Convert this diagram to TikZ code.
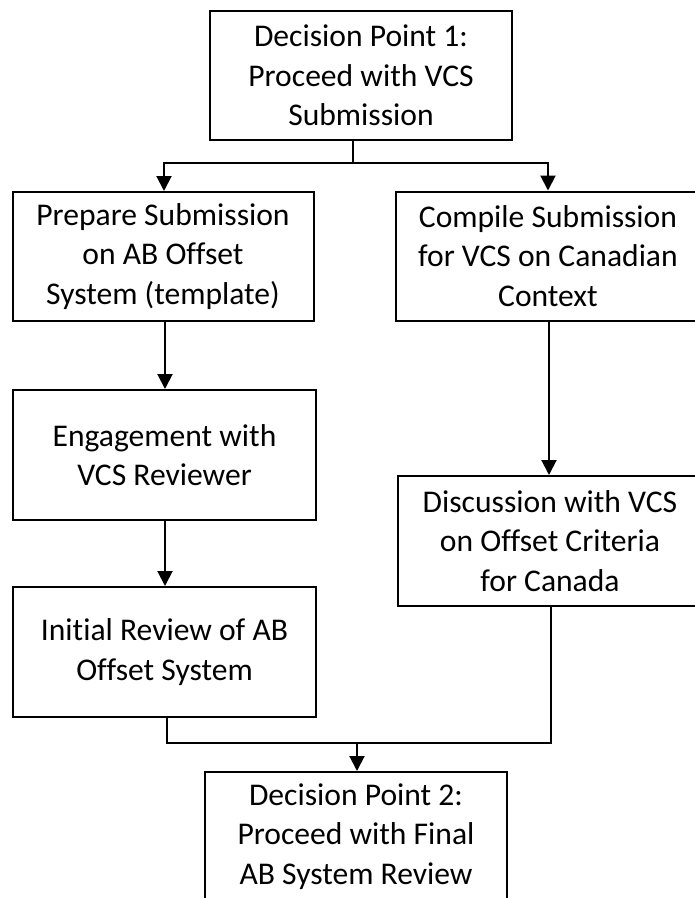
\documentclass[tikz,border=0pt]{standalone}
\usepackage{fontspec}
\setmainfont{Carlito}[Ligatures={NoCommon,NoContextual}]
\usetikzlibrary{arrows.meta}
\begin{document}
\begin{tikzpicture}[x=1pt,y=-1pt,
  box/.style={draw, line width=2pt, align=center, inner sep=0pt,
    minimum height=129pt, font=\fontsize{31.6}{39.3}\selectfont},
  conn/.style={line width=2pt},
  arr/.style={conn, -{Triangle[width=15pt,length=15pt]}}]
\clip (0,0) rectangle (695,898);
\node[box, minimum width=302pt] (top) at (361,75.5) {Decision Point 1:\\Proceed with VCS\\Submission};
\node[box, minimum width=301pt] (l1) at (163,256.5) {Prepare Submission\\on AB Offset\\System (template)};
\node[box, minimum width=304pt] (r1) at (548,256) {Compile Submission\\for VCS on Canadian\\Context};
\node[box, minimum width=303pt, minimum height=130pt] (l2) at (164.5,455) {Engagement with\\VCS Reviewer};
\node[box, minimum width=304pt, minimum height=130pt] (r2) at (550,541) {Discussion with VCS\\on Offset Criteria\\for Canada};
\node[box, minimum width=303pt, minimum height=130pt] (l3) at (164.5,652) {Initial Review of AB\\Offset System};
\node[box, minimum width=302pt] (bot) at (356,836.5) {Decision Point 2:\\Proceed with Final\\AB System Review};
\coordinate (j1) at (353,163);
\coordinate (j2) at (357,743);
\draw[conn] (top.south -| j1) -- (j1);
\draw[arr] (j1) -| (l1.north -| 164,0);
\draw[arr] (j1) -| (r1.north);
\draw[arr] (l1.south -| 165,0) -- (l2.north -| 165,0);
\draw[arr] (l2.south -| 165,0) -- (l3.north -| 165,0);
\draw[arr] (r1.south -| 549,0) -- (r2.north -| 549,0);
\draw[conn] (l3.south -| 167,0) |- (j2);
\draw[conn] (r2.south -| 551,0) |- (j2);
\draw[arr] (j2) -- (bot.north -| j2);
\end{tikzpicture}
\end{document}
